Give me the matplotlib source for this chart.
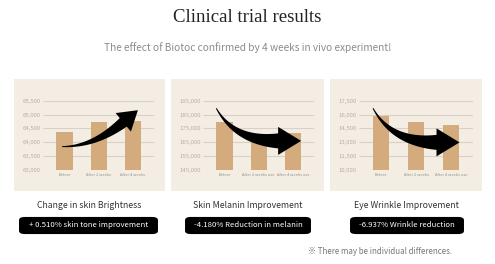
import numpy as np
import matplotlib
matplotlib.use("Agg")
import matplotlib.pyplot as plt
from matplotlib.patches import Rectangle, FancyBboxPatch, Polygon
from matplotlib.transforms import IdentityTransform

plt.rcParams['font.family'] = ['Noto Sans CJK KR', 'DejaVu Sans']

# chart data
titles = ["Change in skin Brightness", "Skin Melanin Improvement", "Eye Wrinkle Improvement"]
results = ["+ 0.510% skin tone improvement", "-4.180% Reduction in melanin", "-6.937% Wrinkle reduction"]
labels_1 = ["Before", "After 2 weeks", "After 4 weeks"]
labels_2 = ["Before", "After 2 weeks use", "After 4 weeks use"]
labels_3 = ["Before", "After 2 weeks", "After 4 weeks use"]
brightness = [64380, 64730, 64750]
melanin = [179500, 169500, 172000]
wrinkle = [15800, 15150, 14880]
ticks_1 = [63000, 63500, 64000, 64500, 65000, 65500]
ticks_2 = [145000, 155000, 165000, 175000, 185000, 195000]
ticks_3 = [10000, 11500, 13000, 14500, 16000, 17500]

BG = "#f3ede4"
BAR = "#d4ab7c"
GRID = "#d9d1c5"

W, H = 495, 264
fig = plt.figure(figsize=(W / 100, H / 100), dpi=100)


def fx(px):
    return px / W


def fy(py):
    return 1 - py / H


def curved_arrow(ax, tail, ctrl, end, w0, w1, head_w, head_len):
    # tapered quadratic bezier arrow, points given in data coords, widths in px
    p0, p1, p2 = [np.array(ax.transData.transform(p)) for p in (tail, ctrl, end)]
    t = np.linspace(0, 1, 60)[:, None]
    pts = (1 - t) ** 2 * p0 + 2 * (1 - t) * t * p1 + t ** 2 * p2
    der = 2 * (1 - t) * (p1 - p0) + 2 * t * (p2 - p1)
    der = der / np.linalg.norm(der, axis=1, keepdims=True)
    nrm = np.column_stack([-der[:, 1], der[:, 0]])
    half = (w0 + (w1 - w0) * t[:, 0] ** 1.3)[:, None] / 2
    left = pts + nrm * half
    right = pts - nrm * half
    d = der[-1]
    n = nrm[-1]
    tip = p2 + d * head_len
    head = [p2 + n * head_w, tip, p2 - n * head_w]
    verts = np.vstack([left, head, right[::-1]])
    fig.add_artist(Polygon(verts, closed=True, facecolor="black", edgecolor="none",
                           transform=IdentityTransform(), zorder=10))


# header text
fig.text(0.5, fy(18), "Clinical trial results", ha="center", va="center",
         fontsize=13.5, family="Liberation Serif", color="#222222")
fig.text(0.5, fy(47.5), "The effect of Biotoc confirmed by 4 weeks in vivo experiment!",
         ha="center", va="center", fontsize=7.3, color="#8c8c8c")

panels = [
    (14, 165, 43, 154, brightness, ticks_1, labels_1),
    (171, 324, 203, 314, melanin, ticks_2, labels_2),
    (330, 482, 359, 473, wrinkle, ticks_3, labels_3),
]

axes = []
for i, (bl, br, al, ar, vals, ticks, labs) in enumerate(panels):
    fig.add_artist(Rectangle((fx(bl), fy(191)), fx(br - bl), (191 - 79) / H,
                             transform=fig.transFigure, facecolor=BG, edgecolor="none", zorder=0))
    ax = fig.add_axes([fx(al), fy(170), fx(ar - al), (170 - 100.7) / H])
    ax.set_facecolor("none")
    x = np.arange(len(vals))
    ax.bar(x, vals, width=0.47, color=BAR, zorder=2, bottom=0)
    ax.hlines(ticks[1:], -0.63, 2.62, color=GRID, linewidth=0.8, zorder=1)
    ax.set_xlim(-0.63, 2.62)
    ax.set_ylim(ticks[0], ticks[-1])
    ax.set_yticks(ticks)
    ax.set_yticklabels([f"{v:,}" for v in ticks])
    ax.set_xticks(x)
    ax.set_xticklabels(labs)
    ax.tick_params(axis="y", length=0, pad=1.5, labelsize=4.3, labelcolor="#b8b0a3")
    ax.tick_params(axis="x", length=0, pad=2, labelsize=2.9, labelcolor="#9a9288")
    for s in ax.spines.values():
        s.set_visible(False)
    axes.append(ax)

    cx = (bl + br) / 2
    fig.text(fx(cx), fy(205), titles[i], ha="center", va="center", fontsize=6.3, color="#333333")

box_x = [(19, 158), (185, 311), (350, 464)]
for (l, r), txt in zip(box_x, results):
    fig.add_artist(FancyBboxPatch((fx(l + 2), fy(233)), fx(r - l - 4), 15 / H,
                                  boxstyle="round,pad=0.004,rounding_size=0.012",
                                  transform=fig.transFigure, facecolor="black", edgecolor="none"))
    fig.text(fx((l + r) / 2), fy(225), txt, ha="center", va="center", fontsize=5.6, color="white")

fig.text(fx(452), fy(251), "\u203b There may be individual differences.", ha="right", va="center",
         fontsize=5.75, color="#777777")

fig.canvas.draw()
curved_arrow(axes[0], (-0.07, 63845), (0.85, 63834), (1.72, 64720), 1, 11, 12, 19)
curved_arrow(axes[1], (-0.24, 189500), (0.29, 166000), (1.57, 166000), 1, 15, 14, 23)
curved_arrow(axes[2], (-0.23, 16680), (0.29, 13000), (1.58, 12990), 1, 15, 14, 23)

fig.savefig("out.png", dpi=100, facecolor="white")
